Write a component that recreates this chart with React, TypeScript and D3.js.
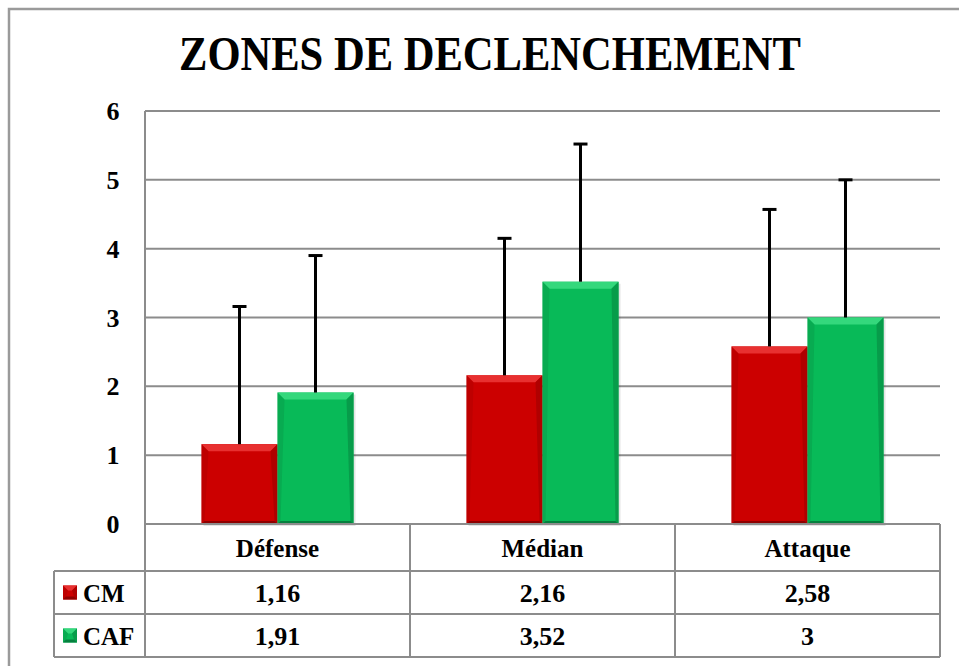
import React from "react";
import * as d3 from "d3";

const categories = ["Défense", "Médian", "Attaque"];
const seriesNames = ["CM", "CAF"];
const cmValues = [1.16, 2.16, 2.58];
const cafValues = [1.91, 3.52, 3];
const cmErrors = [2.0, 1.99, 1.99];
const cafErrors = [1.99, 2.0, 2.0];
const cmLabels = ["1,16", "2,16", "2,58"];
const cafLabels = ["1,91", "3,52", "3"];
const yTicks = [0, 1, 2, 3, 4, 5, 6];

const W = 959;
const H = 666;
const plotL = 145;
const plotR = 940;
const plotT = 111;
const plotB = 524;
const row1B = 571;
const row2B = 614;
const row3B = 657;
const legL = 54;

const series = [
  { name: seriesNames[0], values: cmValues, errors: cmErrors, labels: cmLabels, fill: "#CC0000", light: "#E83030", dark: "#8E0000", side: "#B00000" },
  { name: seriesNames[1], values: cafValues, errors: cafErrors, labels: cafLabels, fill: "#08BA58", light: "#34D87C", dark: "#05803E", side: "#079C4A" },
];

const font = "'Liberation Serif', 'Times New Roman', serif";

function Bar({ x, y, w, h, s, b = 7, shadow = true }: any) {
  const bt = Math.min(b, h / 2, w / 2);
  const bs = Math.min(3, h / 2, w / 2);
  return (
    <g>
      {shadow && <rect x={x + 2} y={y + 2} width={w} height={h} fill="#000" opacity={0.1} />}
      <rect x={x} y={y} width={w} height={h} fill={s.fill} />
      <polygon points={`${x},${y} ${x + w},${y} ${x + w - bt},${y + bt} ${x + bt},${y + bt}`} fill={s.light} />
      <polygon points={`${x},${y} ${x + bt},${y + bt} ${x + bs},${y + h - bs} ${x},${y + h}`} fill={s.side} opacity={0.5} />
      <polygon points={`${x + w},${y} ${x + w},${y + h} ${x + w - bs},${y + h - bs} ${x + w - bt},${y + bt}`} fill={s.side} />
      <polygon points={`${x},${y + h} ${x + w},${y + h} ${x + w - bs},${y + h - bs} ${x + bs},${y + h - bs}`} fill={s.dark} />
    </g>
  );
}

export default function App() {
  const y = d3.scaleLinear().domain([0, 6]).range([plotB, plotT]);
  const x0 = d3.scaleBand().domain(categories).range([plotL, plotR]).paddingInner(0).paddingOuter(0);
  const bw = 76;
  const grey = "#8C8C8C";
  const baselines = [602, 645];

  return (
    <svg width={W} height={H} style={{ position: "absolute", left: 0, top: 0 }}>
      <rect x={0} y={0} width={W} height={H} fill="#fff" />
      <path d={`M9,${H} V9 H${W}`} fill="none" stroke="#9A9A9A" strokeWidth={2.5} />
      <text x={179} y={70} textLength={622} lengthAdjust="spacingAndGlyphs" fontFamily={font} fontWeight="bold" fontSize={48} fill="#000">
        ZONES DE DECLENCHEMENT
      </text>
      {yTicks.map((t) => (
        <g key={t}>
          <line x1={plotL} x2={plotR} y1={y(t)} y2={y(t)} stroke={grey} strokeWidth={2} />
          <text x={113} y={y(t) + 9} textAnchor="middle" fontFamily={font} fontWeight="bold" fontSize={26}>
            {t}
          </text>
        </g>
      ))}
      <line x1={plotL} x2={plotL} y1={plotT} y2={plotB} stroke={grey} strokeWidth={2} />
      {categories.map((c, i) => {
        const cx = x0(c)! + x0.bandwidth() / 2;
        return series.map((s, j) => {
          const bx = cx - bw + j * bw;
          const by = y(s.values[i]);
          return <Bar key={c + j} x={bx} y={by} w={bw} h={plotB - by} s={s} />;
        });
      })}
      {categories.map((c, i) => {
        const cx = x0(c)! + x0.bandwidth() / 2;
        return series.map((s, j) => {
          const ex = cx - bw / 2 + j * bw;
          const top = y(s.values[i] + s.errors[i]);
          return (
            <g key={"e" + c + j}>
              <line x1={ex} x2={ex} y1={y(s.values[i])} y2={top} stroke="#000" strokeWidth={3} />
              <line x1={ex - 7} x2={ex + 7} y1={top} y2={top} stroke="#000" strokeWidth={3} />
            </g>
          );
        });
      })}
      <g stroke={grey} strokeWidth={2} fill="none">
        <line x1={plotL} x2={plotR} y1={plotB} y2={plotB} />
        <line x1={legL} x2={plotR} y1={row1B} y2={row1B} />
        <line x1={legL} x2={plotR} y1={row2B} y2={row2B} />
        <line x1={legL} x2={plotR} y1={row3B} y2={row3B} />
        <line x1={legL} x2={legL} y1={row1B} y2={row3B} />
        {categories.map((c) => (
          <line key={c} x1={x0(c)!} x2={x0(c)!} y1={plotB} y2={row3B} />
        ))}
        <line x1={plotR} x2={plotR} y1={plotB} y2={row3B} />
      </g>
      {categories.map((c) => (
        <text key={c} x={x0(c)! + x0.bandwidth() / 2} y={557} textAnchor="middle" fontFamily={font} fontWeight="bold" fontSize={25}>
          {c}
        </text>
      ))}
      {series.map((s, j) => {
        const rowTop = j === 0 ? row1B : row2B;
        const rowBot = j === 0 ? row2B : row3B;
        const mid = (rowTop + rowBot) / 2;
        return (
          <g key={s.name}>
            <Bar x={63} y={mid - 7} w={14} h={14} s={s} b={5} shadow={false} />
            <text x={83} y={baselines[j]} fontFamily={font} fontWeight="bold" fontSize={25}>
              {s.name}
            </text>
            {categories.map((c, i) => (
              <text key={c} x={x0(c)! + x0.bandwidth() / 2} y={baselines[j]} textAnchor="middle" fontFamily={font} fontWeight="bold" fontSize={26}>
                {s.labels[i]}
              </text>
            ))}
          </g>
        );
      })}
    </svg>
  );
}
